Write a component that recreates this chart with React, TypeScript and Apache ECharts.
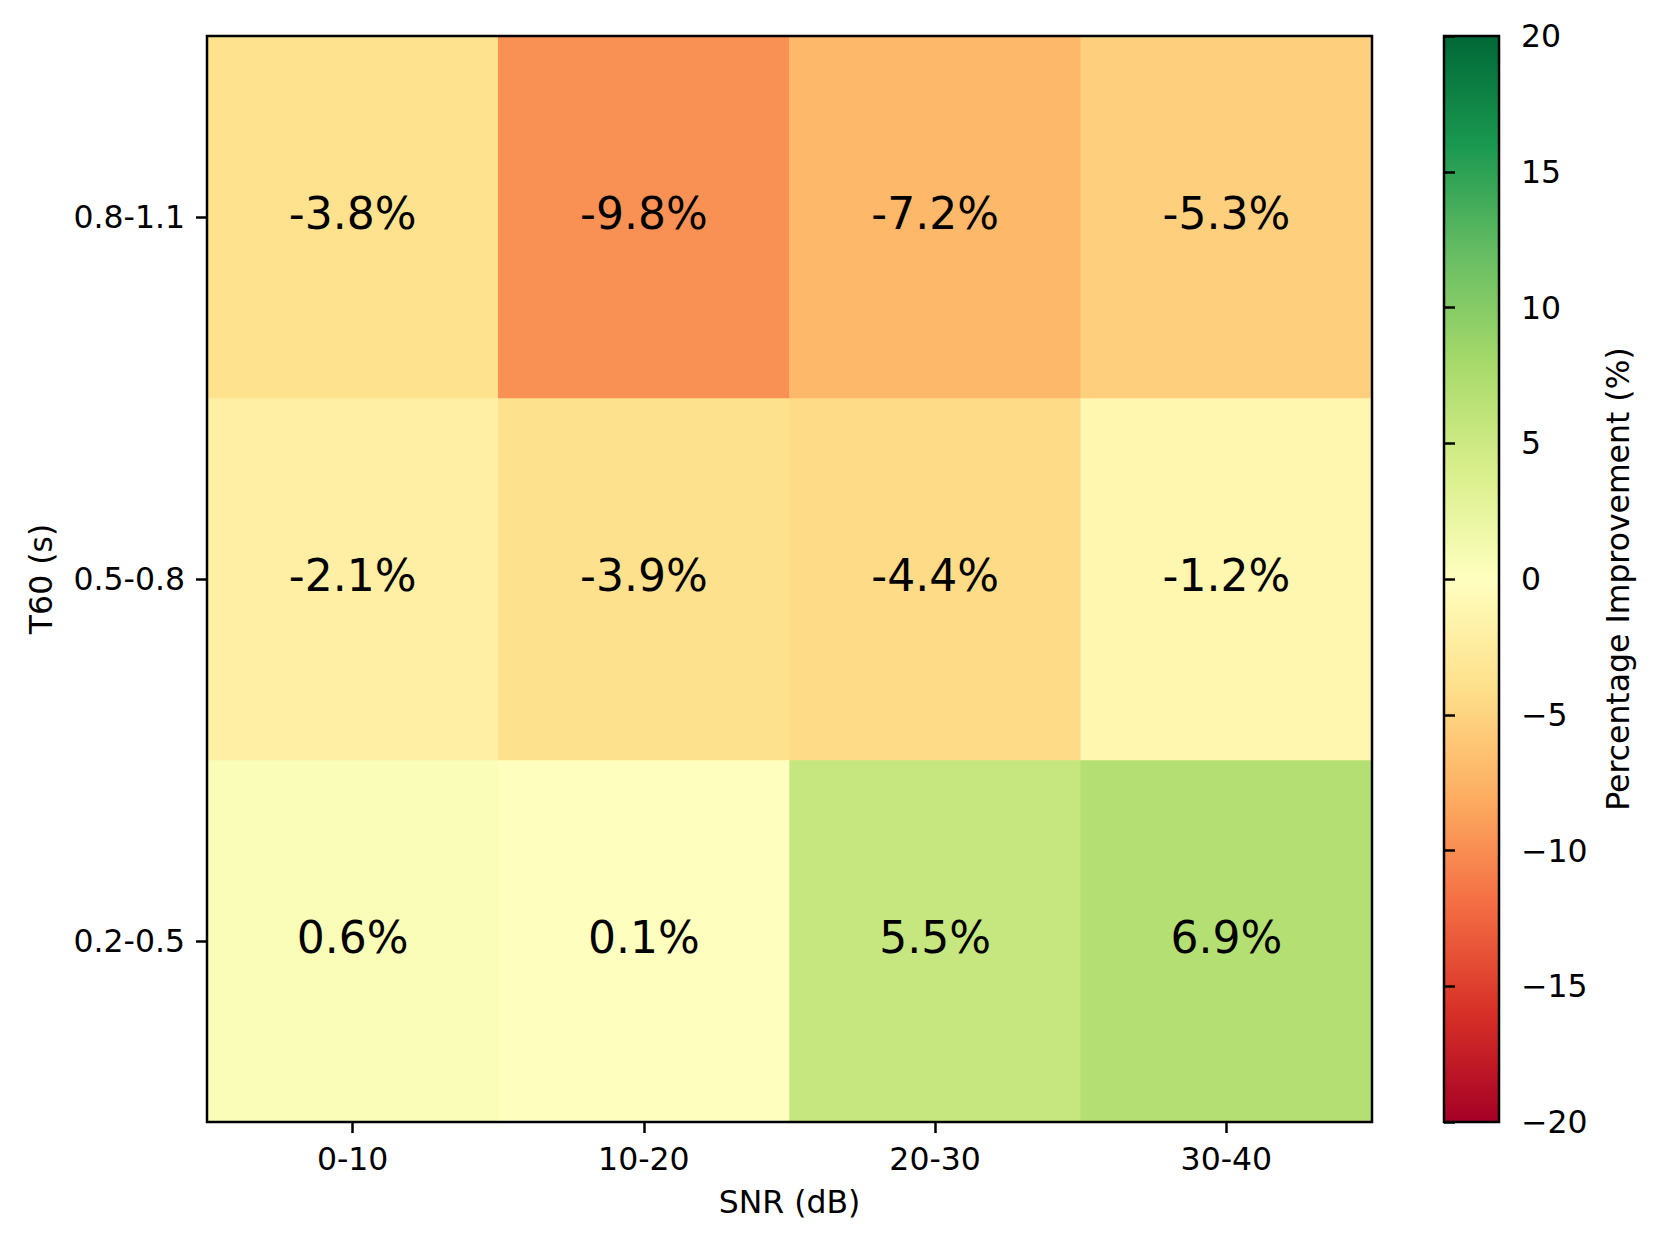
import React, { useEffect, useRef } from "react";
import * as echarts from "echarts";

const snrCategories = ["0-10", "10-20", "20-30", "30-40"];
const t60Categories = ["0.2-0.5", "0.5-0.8", "0.8-1.1"];
// rows from bottom (0.2-0.5) to top (0.8-1.1)
const row02_05 = [0.6, 0.1, 5.5, 6.9];
const row05_08 = [-2.1, -3.9, -4.4, -1.2];
const row08_11 = [-3.8, -9.8, -7.2, -5.3];
const colorbarMin = -20;
const colorbarMax = 20;
const colorbarStep = 5;
const rdYlGn = [
  "#a50026", "#d73027", "#f46d43", "#fdae61", "#fee08b", "#ffffbf",
  "#d9ef8b", "#a6d96a", "#66bd63", "#1a9850", "#006837",
];

const FONT = "DejaVu Sans";
const PLOT = { left: 207, top: 36, width: 1165, height: 1086 };

export default function App() {
  const ref = useRef<HTMLDivElement>(null);
  useEffect(() => {
    document.body.style.margin = "0";
    const chart = echarts.init(ref.current!, null, { renderer: "svg" });
    const rows = [row02_05, row05_08, row08_11];
    const data: [number, number, number][] = [];
    rows.forEach((row, yi) => row.forEach((v, xi) => data.push([xi, yi, v])));
    const stops = rdYlGn.map((c, i) => ({ offset: i / (rdYlGn.length - 1), color: c }));
    const fmtTick = (v: number) => (v < 0 ? "\u2212" + Math.abs(v) : String(v));
    chart.setOption({
      animation: false,
      backgroundColor: "#ffffff",
      textStyle: { fontFamily: FONT },
      grid: [
        { ...PLOT, show: false },
        {
          left: 1444, top: 36, width: 55, height: 1086,
          show: true, borderColor: "#000", borderWidth: 2.5,
          backgroundColor: new echarts.graphic.LinearGradient(0, 1, 0, 0, stops),
        },
      ],
      graphic: [
        {
          type: "rect", z: 100, silent: true,
          shape: { x: PLOT.left, y: PLOT.top, width: PLOT.width, height: PLOT.height },
          style: { fill: "none", stroke: "#000", lineWidth: 2.5 },
        },
      ],
      xAxis: [
        {
          gridIndex: 0, type: "category", data: snrCategories,
          name: "SNR (dB)", nameLocation: "middle", nameGap: 64,
          nameTextStyle: { fontSize: 31.5, color: "#000", fontFamily: FONT },
          axisLine: { show: false },
          axisTick: { show: true, alignWithLabel: true, length: 11, lineStyle: { color: "#000", width: 2.5 } },
          axisLabel: { fontSize: 31.5, color: "#000", margin: 21, fontFamily: FONT },
          splitLine: { show: false },
        },
        { gridIndex: 1, type: "value", show: false, min: 0, max: 1 },
      ],
      yAxis: [
        {
          gridIndex: 0, type: "category", data: t60Categories,
          name: "T60 (s)", nameLocation: "middle", nameGap: 150,
          nameTextStyle: { fontSize: 31.5, color: "#000", fontFamily: FONT },
          axisLine: { show: false },
          axisTick: { show: true, alignWithLabel: true, length: 11, lineStyle: { color: "#000", width: 2.5 } },
          axisLabel: { fontSize: 31.5, color: "#000", margin: 22, fontFamily: FONT },
          splitLine: { show: false },
        },
        {
          gridIndex: 1, type: "value", position: "right",
          min: colorbarMin, max: colorbarMax, interval: colorbarStep,
          name: "Percentage Improvement (%)", nameLocation: "middle", nameGap: 103,
          nameTextStyle: { fontSize: 31.5, color: "#000", fontFamily: FONT },
          axisLine: { show: false },
          axisTick: { show: true, inside: false, length: 11, lineStyle: { color: "#000", width: 2.5 } },
          axisLabel: { fontSize: 31.5, color: "#000", margin: 22, fontFamily: FONT, formatter: fmtTick },
          splitLine: { show: false },
        },
      ],
      visualMap: {
        show: false, type: "continuous", min: colorbarMin, max: colorbarMax,
        dimension: 2, seriesIndex: 0, inRange: { color: rdYlGn },
      },
      series: [
        {
          type: "heatmap", xAxisIndex: 0, yAxisIndex: 0, data,
          label: {
            show: true, fontSize: 44, color: "#000", fontFamily: FONT, offset: [0, -4],
            formatter: (p: any) => p.value[2].toFixed(1) + "%",
          },
          emphasis: { disabled: true },
        },
      ],
    });
    return () => chart.dispose();
  }, []);
  return <div ref={ref} style={{ width: 1659, height: 1245 }} />;
}
